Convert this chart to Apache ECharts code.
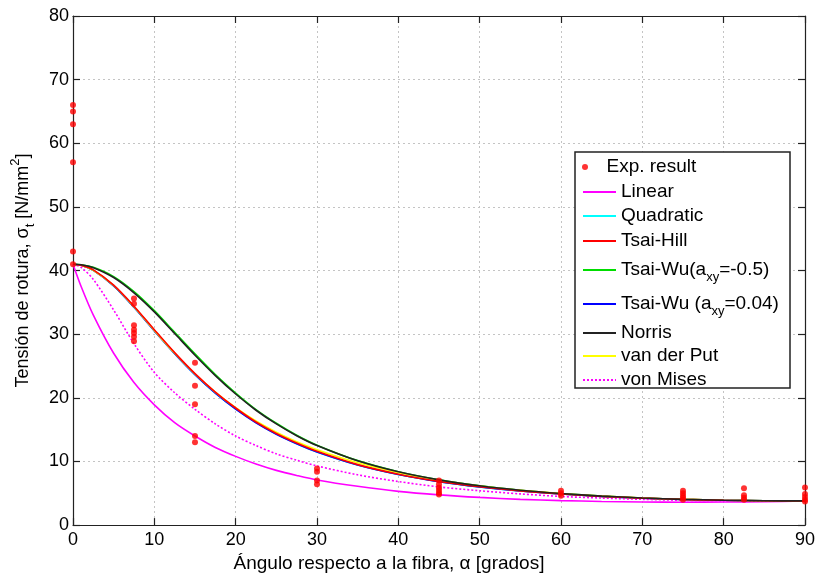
<!DOCTYPE html>
<html>
<head>
<meta charset="utf-8">
<script src="https://cdn.jsdelivr.net/npm/echarts@6/dist/echarts.min.js"></script>
<style>
html, body { margin: 0; padding: 0; background: #fff; }
#chart { width: 818px; height: 579px; }
</style>
</head>
<body>
<div id="chart"></div>
<script>
// angulo respecto a la fibra (grados)
var angles = [0, 1, 2.5, 5, 7.5, 10, 12.5, 15, 17.5, 20, 22.5, 25, 27.5, 30, 35, 40, 45, 50, 55, 60, 65, 70, 75, 80, 85, 90];

// curvas
var linear     = [41, 37.5, 33.0, 27.0, 22.4, 18.9, 16.1, 14.0, 12.2, 10.8, 9.6, 8.6, 7.8, 7.1, 6.1, 5.3, 4.75, 4.35, 4.05, 3.85, 3.72, 3.64, 3.6, 3.62, 3.68, 3.8];
var quadratic  = [41, 40.85, 40.05, 37.6, 34.25, 30.55, 26.95, 23.65, 20.75, 18.25, 16.1, 14.3, 12.8, 11.5, 9.45, 7.95, 6.83, 6.0, 5.37, 4.88, 4.51, 4.23, 4.03, 3.9, 3.83, 3.8];
var tsaiHill   = [41, 40.85, 40.1, 37.7, 34.4, 30.7, 27.1, 23.8, 20.9, 18.4, 16.2, 14.4, 12.9, 11.6, 9.5, 8.0, 6.86, 6.02, 5.38, 4.89, 4.52, 4.24, 4.04, 3.9, 3.83, 3.8];
var tsaiWuA    = [41, 40.92, 40.5, 39.05, 36.7, 33.7, 30.3, 26.9, 23.65, 20.75, 18.15, 16.0, 14.12, 12.56, 10.13, 8.39, 7.12, 6.18, 5.48, 4.96, 4.56, 4.27, 4.05, 3.91, 3.83, 3.8];
var tsaiWuB    = [41, 40.83, 40.02, 37.58, 34.22, 30.52, 26.92, 23.62, 20.72, 18.22, 16.07, 14.27, 12.78, 11.48, 9.43, 7.94, 6.82, 5.99, 5.36, 4.88, 4.51, 4.23, 4.03, 3.9, 3.83, 3.8];
var norris     = [41, 40.9, 40.45, 38.9, 36.5, 33.5, 30.1, 26.7, 23.5, 20.6, 18.05, 15.9, 14.05, 12.5, 10.1, 8.37, 7.11, 6.18, 5.48, 4.96, 4.56, 4.27, 4.05, 3.91, 3.83, 3.8];
var vanDerPut  = [41, 40.85, 40.05, 37.65, 34.3, 30.6, 27.0, 23.75, 20.9, 18.45, 16.35, 14.6, 13.1, 11.85, 9.8, 8.25, 7.05, 6.15, 5.46, 4.95, 4.55, 4.26, 4.05, 3.91, 3.83, 3.8];
var vonMises   = [41, 40.5, 38.6, 33.8, 28.5, 24.0, 20.8, 18.2, 15.9, 14.0, 12.5, 11.2, 10.2, 9.3, 7.9, 6.85, 6.0, 5.4, 4.9, 4.5, 4.25, 4.05, 3.9, 3.85, 3.8, 3.8];

// resultados experimentales
var expX = [0, 0, 0, 0, 0, 0,
            7.5, 7.5, 7.5, 7.5, 7.5, 7.5, 7.5,
            15, 15, 15, 15, 15,
            30, 30, 30, 30,
            45, 45, 45, 45, 45, 45,
            60, 60, 60,
            75, 75, 75, 75, 75,
            82.5, 82.5, 82.5, 82.5,
            90, 90, 90, 90, 90];
var expY = [66, 65, 63, 57, 43, 41,
            35.6, 34.8, 31.4, 30.7, 30.2, 29.6, 28.9,
            25.5, 21.9, 19.0, 14.0, 13.0,
            8.9, 8.4, 7.0, 6.4,
            7.0, 6.4, 5.9, 5.5, 5.1, 4.8,
            5.4, 5.0, 4.6,
            5.4, 5.0, 4.6, 4.3, 4.0,
            5.8, 4.7, 4.3, 4.0,
            5.9, 4.9, 4.4, 4.0, 3.7];

var font = 'Liberation Sans, Arial, Helvetica, sans-serif';

function pares(ys) {
    return angles.map(function (a, i) { return [a, ys[i]]; });
}

var curvas = [
    { name: 'Linear', data: linear, color: '#ff00ff', z: 3 },
    { name: 'Quadratic', data: quadratic, color: '#00ffff', z: 3 },
    { name: 'Tsai-Hill', data: tsaiHill, color: '#ff0000', z: 5 },
    { name: 'Tsai-Wu(axy=-0.5)', data: tsaiWuA, color: '#00dd00', z: 3 },
    { name: 'Tsai-Wu (axy=0.04)', data: tsaiWuB, color: '#0000ff', z: 3 },
    { name: 'Norris', data: norris, color: '#222222', z: 5 },
    { name: 'van der Put', data: vanDerPut, color: '#ffff00', z: 4 },
    { name: 'von Mises', data: vonMises, color: '#ff00ff', z: 3, dotted: true }
];

var series = curvas.map(function (c) {
    return {
        name: c.name,
        type: 'line',
        data: pares(c.data),
        smooth: 0.3,
        symbol: 'none',
        z: c.z,
        lineStyle: { color: c.color, width: 1.6, type: c.dotted ? [2, 2] : 'solid' },
        itemStyle: { color: c.color }
    };
});
series.push({
    name: 'Exp. result',
    type: 'scatter',
    data: expX.map(function (x, i) { return [x, expY[i]]; }),
    symbol: 'circle',
    symbolSize: 6,
    clip: false,
    z: 10,
    itemStyle: { color: '#ff0000' }
});

// leyenda: una por fila para colocar cada una
var filas = [
    { name: 'Exp. result', top: 157 },
    { name: 'Linear', top: 182 },
    { name: 'Quadratic', top: 206 },
    { name: 'Tsai-Hill', top: 231 },
    { name: 'Tsai-Wu(axy=-0.5)', top: 256, label: 'Tsai-Wu(a{sub|xy}=-0.5)', rich: true },
    { name: 'Tsai-Wu (axy=0.04)', top: 290, label: 'Tsai-Wu (a{sub|xy}=0.04)', rich: true },
    { name: 'Norris', top: 323 },
    { name: 'van der Put', top: 346 },
    { name: 'von Mises', top: 370 }
];

var legends = filas.map(function (f) {
    var lh = f.rich ? 28 : 20;
    var esPunto = f.name === 'Exp. result';
    return {
        data: [esPunto ? { name: f.name, icon: 'circle' } : f.name],
        left: 582,
        top: f.top,
        orient: 'vertical',
        itemWidth: 33,
        itemHeight: esPunto ? 6 : 2,
        itemGap: 0,
        padding: 0,
        selectedMode: false,
        z: 60,
        formatter: function () { return f.label || f.name; },
        textStyle: {
            fontFamily: font, fontSize: 19, color: '#000', lineHeight: lh,
            rich: {
                sub: { fontFamily: font, fontSize: 13, color: '#000', verticalAlign: 'bottom', lineHeight: lh }
            }
        }
    };
});

var ejeLinea = { show: true, onZero: false, lineStyle: { color: '#222', width: 1.2 } };
var ejeTick = { show: true, inside: true, length: 7, lineStyle: { color: '#222', width: 1.2 } };
var rejilla = { show: true, lineStyle: { color: '#c4c4c4', type: [2, 3], width: 1 } };

var chart = echarts.init(document.getElementById('chart'));
var option = {
    animation: false,
    backgroundColor: '#fff',
    grid: { left: 73, right: 12, top: 16, bottom: 51 },
    legend: legends,
    graphic: [{
        type: 'rect',
        z: 50,
        shape: { x: 575, y: 152, width: 215, height: 236 },
        style: { fill: '#fff', stroke: '#222', lineWidth: 1.5 }
    }],
    xAxis: [
        {
            type: 'value', min: 0, max: 90, interval: 10, position: 'bottom',
            axisLine: ejeLinea, axisTick: ejeTick, splitLine: rejilla,
            axisLabel: { fontFamily: font, fontSize: 18, color: '#000', margin: 6 },
            name: 'Ángulo respecto a la fibra, α [grados]',
            nameLocation: 'middle', nameGap: 20,
            nameTextStyle: { fontFamily: font, fontSize: 19, color: '#000', lineHeight: 20, padding: [0, 100, 0, 0] }
        },
        {
            type: 'value', min: 0, max: 90, interval: 10, position: 'top',
            axisLine: ejeLinea, axisTick: ejeTick, splitLine: { show: false },
            axisLabel: { show: false }
        }
    ],
    yAxis: [
        {
            type: 'value', min: 0, max: 80, interval: 10, position: 'left',
            axisLine: ejeLinea, axisTick: ejeTick, splitLine: rejilla,
            axisLabel: { fontFamily: font, fontSize: 18, color: '#000', margin: 4 },
            name: 'Tensión de rotura, σ{sub|t} [N/mm{sup|2}]',
            nameLocation: 'middle', nameGap: 36, nameRotate: 90,
            nameTextStyle: {
                fontFamily: font, fontSize: 18, color: '#000', lineHeight: 28,
                rich: {
                    sub: { fontFamily: font, fontSize: 13, color: '#000', verticalAlign: 'bottom', lineHeight: 28 },
                    sup: { fontFamily: font, fontSize: 13, color: '#000', verticalAlign: 'top', lineHeight: 28 }
                }
            }
        },
        {
            type: 'value', min: 0, max: 80, interval: 10, position: 'right',
            axisLine: ejeLinea, axisTick: ejeTick, splitLine: { show: false },
            axisLabel: { show: false }
        }
    ],
    series: series
};
chart.setOption(option);
</script>
</body>
</html>
